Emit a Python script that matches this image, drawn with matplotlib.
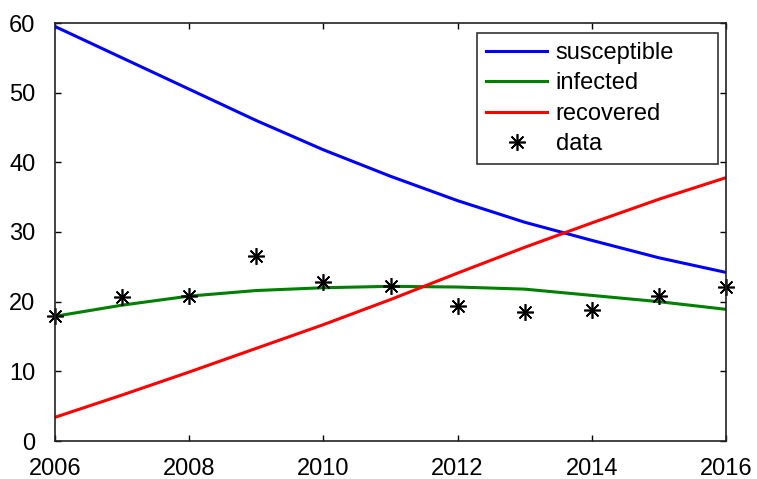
import matplotlib
matplotlib.use("Agg")
import matplotlib.pyplot as plt

plt.rcParams['font.family'] = ['Liberation Sans', 'DejaVu Sans']

years = [2006, 2007, 2008, 2009, 2010, 2011, 2012, 2013, 2014, 2015, 2016]
susceptible = [59.5, 55.0, 50.5, 46.0, 41.8, 38.0, 34.5, 31.4, 28.8, 26.3, 24.2]
infected = [17.9, 19.5, 20.8, 21.6, 22.0, 22.2, 22.1, 21.8, 20.9, 20.0, 18.9]
recovered = [3.4, 6.6, 9.9, 13.3, 16.7, 20.3, 24.1, 27.8, 31.3, 34.7, 37.8]
observed = [17.9, 20.7, 20.8, 26.5, 22.8, 22.2, 19.4, 18.5, 18.8, 20.8, 22.1]

xticks = [2006, 2008, 2010, 2012, 2014, 2016]
yticks = [0, 10, 20, 30, 40, 50, 60]

W, H = 757, 479
fig = plt.figure(figsize=(W / 100, H / 100), dpi=100)
ax = fig.add_axes([55 / W, 1 - 441 / H, (726 - 55) / W, (441 - 23) / H])

ax.plot(years, susceptible, color=(0, 0, 1), lw=2.2, label='susceptible')
ax.plot(years, infected, color=(0, 0.5, 0), lw=2.2, label='infected')
ax.plot(years, recovered, color=(1, 0, 0), lw=2.2, label='recovered')
ax.plot(years, observed, ls='none', marker=(8, 2, 0), color='black', ms=12,
        mew=1.2, label='data', clip_on=False)

ax.set_xlim(2006, 2016)
ax.set_ylim(0, 60)
ax.set_xticks(xticks)
ax.set_yticks(yticks)
ax.tick_params(direction='in', length=4, width=1, top=True, right=True,
               labelsize=17, colors='black')
ax.tick_params(axis='y', pad=14)
ax.tick_params(axis='x', pad=12)
for s in ax.spines.values():
    s.set_linewidth(1.2)
    s.set_color('#222222')

# legend box spans a fixed region in the upper right, content left-aligned
leg = ax.legend(loc='upper left',
                bbox_to_anchor=(477 / W, 1 - 163 / H, (718 - 477) / W, (163 - 33) / H),
                bbox_transform=fig.transFigure, mode='expand',
                fontsize=17, frameon=True,
                fancybox=False, shadow=False, framealpha=1, edgecolor='#333333',
                handlelength=2.6, handletextpad=0.35, labelspacing=0.36,
                borderpad=0.38, borderaxespad=0)
leg.get_frame().set_linewidth(1.2)

fig.savefig('out.png', dpi=100)
